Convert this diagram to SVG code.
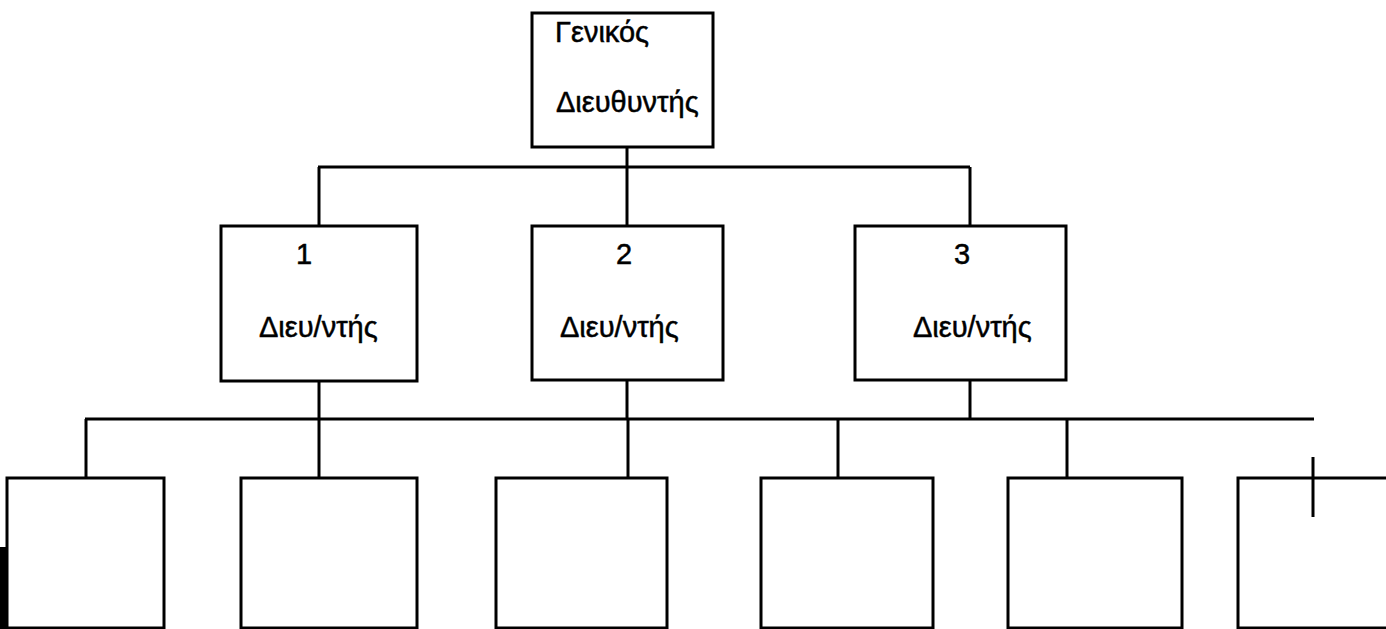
<svg xmlns="http://www.w3.org/2000/svg" width="1386" height="629" viewBox="0 0 1386 629">
<style>
.box{fill:#fff;stroke:#000;stroke-width:3}
.ln{stroke:#000;stroke-width:3;fill:none}
.t{font-family:"Liberation Sans","DejaVu Sans",sans-serif;font-size:29px;fill:#000;stroke:#000;stroke-width:0.5}
</style>
<rect width="1386" height="629" fill="#fff"/>
<g id="connectors">
<line class="ln" x1="627" y1="147" x2="627" y2="167"/>
<line class="ln" x1="318" y1="167" x2="970" y2="167"/>
<line class="ln" x1="319" y1="167" x2="319" y2="226"/>
<line class="ln" x1="627" y1="167" x2="627" y2="226"/>
<line class="ln" x1="970" y1="167" x2="970" y2="226"/>
<line class="ln" x1="319" y1="381" x2="319" y2="419"/>
<line class="ln" x1="627" y1="380" x2="627" y2="419"/>
<line class="ln" x1="970" y1="380" x2="970" y2="419"/>
<line class="ln" x1="85" y1="419" x2="1314" y2="419"/>
<line class="ln" x1="86" y1="419" x2="86" y2="478"/>
<line class="ln" x1="319" y1="419" x2="319" y2="478"/>
<line class="ln" x1="628" y1="419" x2="628" y2="478"/>
<line class="ln" x1="838" y1="419" x2="838" y2="478"/>
<line class="ln" x1="1067" y1="419" x2="1067" y2="478"/>
</g>
<g id="gm">
<rect class="box" x="532" y="13" width="181" height="134"/>
<text class="t" x="555" y="42">Γενικός</text>
<text class="t" x="556" y="112">Διευθυντής</text>
</g>
<g id="d1">
<rect class="box" x="221" y="226" width="196" height="155"/>
<text class="t" x="296" y="264">1</text>
<text class="t" x="259" y="337">Διευ/ντής</text>
</g>
<g id="d2">
<rect class="box" x="532" y="226" width="191" height="154"/>
<text class="t" x="616" y="264">2</text>
<text class="t" x="560" y="337">Διευ/ντής</text>
</g>
<g id="d3">
<rect class="box" x="855" y="226" width="211" height="154"/>
<text class="t" x="954" y="264">3</text>
<text class="t" x="913" y="337">Διευ/ντής</text>
</g>
<g id="b1"><rect class="box" x="7" y="478" width="157" height="150"/></g>
<g id="b2"><rect class="box" x="241" y="478" width="176" height="150"/></g>
<g id="b3"><rect class="box" x="496" y="478" width="171" height="150"/></g>
<g id="b4"><rect class="box" x="761" y="478" width="172" height="150"/></g>
<g id="b5"><rect class="box" x="1008" y="478" width="174" height="150"/></g>
<g id="b6"><rect class="box" x="1238" y="478" width="160" height="150"/></g>
<line class="ln" x1="1313" y1="457" x2="1313" y2="517"/>
<rect x="0" y="547" width="8" height="82" fill="#000"/>
</svg>
